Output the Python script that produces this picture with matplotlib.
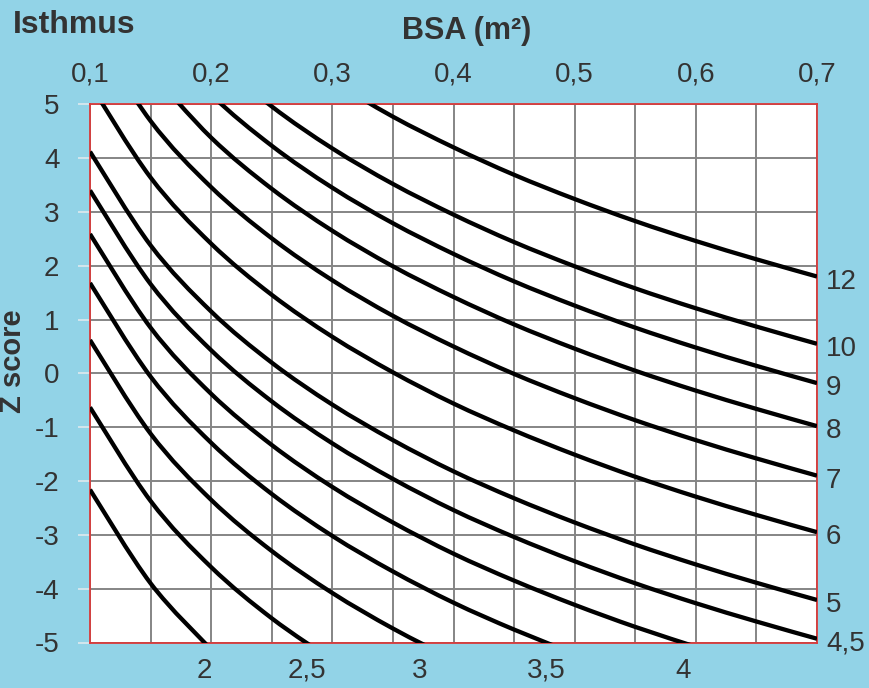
import numpy as np
import matplotlib
matplotlib.use("Agg")
import matplotlib.pyplot as plt
from matplotlib.path import Path
from matplotlib.patches import PathPatch

plt.rcParams['font.family'] = ['Liberation Sans', 'DejaVu Sans']

# ---------------- data ----------------
bsa = [0.10, 0.15, 0.20, 0.25, 0.30, 0.35, 0.40, 0.45, 0.50, 0.55, 0.60, 0.65, 0.70]

z_12  = [None, None, None, None, 5.43, 4.77, 4.20, 3.69, 3.24, 2.83, 2.46, 2.12, 1.80]
z_10  = [None, None, 5.91, 4.96, 4.18, 3.52, 2.95, 2.44, 1.99, 1.58, 1.21, 0.87, 0.55]
z_9   = [None, 6.41, 5.18, 4.23, 3.45, 2.79, 2.22, 1.71, 1.26, 0.85, 0.48, 0.14, -0.18]
z_8   = [None, 5.61, 4.38, 3.43, 2.65, 1.99, 1.42, 0.91, 0.46, 0.05, -0.32, -0.66, -0.98]
z_7   = [6.43, 4.69, 3.46, 2.51, 1.73, 1.07, 0.50, -0.01, -0.46, -0.87, -1.24, -1.58, -1.90]
z_6   = [5.38, 3.64, 2.41, 1.46, 0.68, 0.02, -0.56, -1.06, -1.51, -1.92, -2.29, -2.63, -2.95]
z_5   = [4.12, 2.38, 1.15, 0.20, -0.58, -1.24, -1.82, -2.32, -2.77, -3.18, -3.55, -3.89, -4.21]
z_4_5 = [3.40, 1.66, 0.43, -0.52, -1.30, -1.96, -2.54, -3.04, -3.49, -3.90, -4.27, -4.61, -4.93]
z_4   = [2.59, 0.85, -0.38, -1.33, -2.11, -2.77, -3.35, -3.85, -4.30, -4.71, -5.08, None, None]
z_3_5 = [1.68, -0.06, -1.29, -2.24, -3.02, -3.68, -4.26, -4.76, -5.21, None, None, None, None]
z_3   = [0.62, -1.12, -2.35, -3.30, -4.08, -4.74, -5.32, None, None, None, None, None, None]
z_2_5 = [-0.63, -2.37, -3.60, -4.55, -5.33, None, None, None, None, None, None, None, None]
z_2   = [-2.16, -3.90, -5.13, None, None, None, None, None, None, None, None, None, None]

curve_labels = ['12', '10', '9', '8', '7', '6', '5', '4,5', '4', '3,5', '3', '2,5', '2']
curve_values = [z_12, z_10, z_9, z_8, z_7, z_6, z_5, z_4_5, z_4, z_3_5, z_3, z_2_5, z_2]

x_major = [0.1, 0.2, 0.3, 0.4, 0.5, 0.6, 0.7]
x_tick_labels = ['0,1', '0,2', '0,3', '0,4', '0,5', '0,6', '0,7']
x_minor = [0.15, 0.25, 0.35, 0.45, 0.55, 0.65]
y_ticks = [5, 4, 3, 2, 1, 0, -1, -2, -3, -4, -5]

# ---------------- styling ----------------
BG = '#92D3E7'
TXT = '#333333'
W, H = 869, 688
FS = 20

fig = plt.figure(figsize=(W / 100, H / 100), dpi=100, facecolor=BG)
ax = fig.add_axes([90 / W, 1 - 642.5 / H, (817 - 90) / W, (642.5 - 104.3) / H])
ax.set_facecolor('white')
ax.set_xlim(0.1, 0.7)
ax.set_ylim(-5, 5)

ax.set_xticks(x_major)
ax.set_xticklabels(x_tick_labels)
ax.set_xticks(x_minor, minor=True)
ax.set_yticks(y_ticks)
ax.set_yticklabels([str(v) for v in y_ticks])

ax.xaxis.tick_top()
ax.tick_params(axis='x', which='both', length=0, pad=12, labelsize=FS, labelcolor=TXT)
ax.tick_params(axis='y', which='both', length=9, width=1.3, color='#D8E8EE',
               pad=13, labelsize=FS, labelcolor=TXT)

ax.grid(True, which='both', color='#858585', linewidth=1.4, zorder=1)
ax.set_axisbelow(True)
for sp in ax.spines.values():
    sp.set_color('#D93A3A')
    sp.set_linewidth(1.3)
    sp.set_zorder(2.5)


def smooth_path(xs, ys):
    """Excel-style smoothed line: Catmull-Rom tangents as cubic Bezier segments."""
    pts = np.column_stack([xs, ys])
    n = len(pts)
    verts = [pts[0]]
    codes = [Path.MOVETO]
    for i in range(n - 1):
        p_prev = pts[i - 1] if i > 0 else pts[i]
        p0, p1 = pts[i], pts[i + 1]
        p_next = pts[i + 2] if i + 2 < n else pts[i + 1]
        c1 = p0 + (p1 - p_prev) / 6.0
        c2 = p1 - (p_next - p0) / 6.0
        verts += [c1, c2, p1]
        codes += [Path.CURVE4] * 3
    return Path(verts, codes)


x_arr = np.array(bsa, dtype=float)
for lab, vals in zip(curve_labels, curve_values):
    y_arr = np.array([np.nan if v is None else v for v in vals], dtype=float)
    valid = ~np.isnan(y_arr)
    xv, yv = x_arr[valid], y_arr[valid]
    patch = PathPatch(smooth_path(xv, yv), facecolor='none', edgecolor='black',
                      linewidth=3.1, zorder=3, capstyle='butt', joinstyle='round')
    ax.add_patch(patch)
    if yv[-1] >= -5 and xv[-1] >= 0.7 - 1e-9:
        ax.annotate(lab, xy=(0.7, yv[-1]), xytext=(9, -5), textcoords='offset pixels',
                    ha='left', va='center', fontsize=FS, color=TXT, annotation_clip=False)
    else:
        idx = np.where(yv < -5)[0][0]
        x_cross = np.interp(-5, [yv[idx], yv[idx - 1]], [xv[idx], xv[idx - 1]])
        ax.annotate(lab, xy=(x_cross, -5), xytext=(0, -28), textcoords='offset pixels',
                    ha='center', va='center', fontsize=FS, color=TXT, annotation_clip=False)

fig.text(13 / W, 1 - 25 / H, 'Isthmus', ha='left', va='center',
         fontsize=23, fontweight='bold', color=TXT)
fig.text(467 / W, 1 - 31 / H, 'BSA (m²)', ha='center', va='center',
         fontsize=22, fontweight='bold', color=TXT)
fig.text(13 / W, 1 - 361 / H, 'Z score', ha='center', va='center', rotation=90,
         fontsize=21, fontweight='bold', color=TXT)

fig.savefig('out.png', dpi=100, facecolor=BG)
